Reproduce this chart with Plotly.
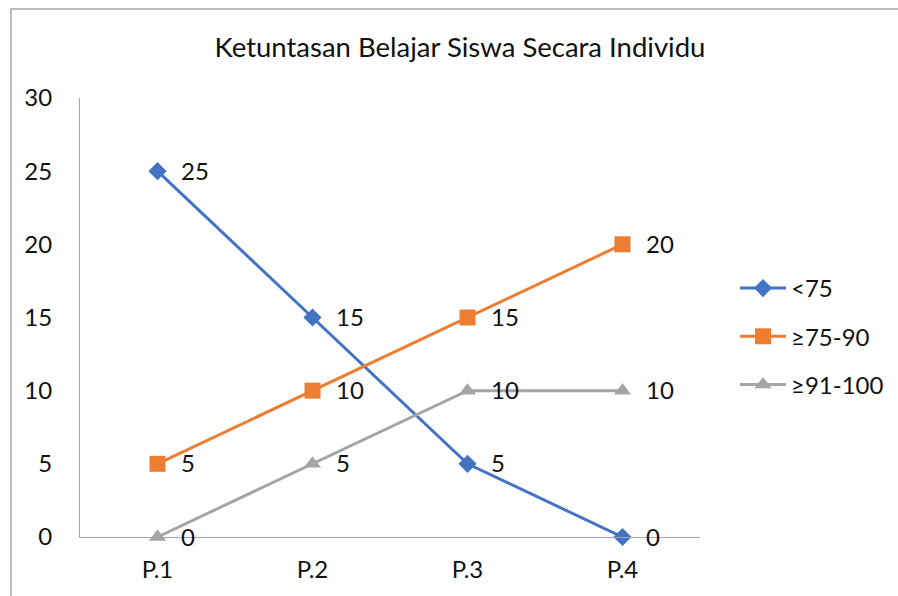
import plotly.graph_objects as go

categories = ["P.1", "P.2", "P.3", "P.4"]
series_names = ["<75", "≥75-90", "≥91-100"]
val_lt75 = [25, 15, 5, 0]
val_75_90 = [5, 10, 15, 20]
val_91_100 = [0, 5, 10, 10]
y_ticks = [0, 5, 10, 15, 20, 25, 30]

colors = ["#4472C4", "#ED7D31", "#A5A5A5"]
symbols = ["diamond", "square", "triangle-up"]
sizes = [14, 16, 15]
FONT = "Lato, 'Open Sans', sans-serif"

fig = go.Figure()
for i, (name, vals) in enumerate(zip(series_names, [val_lt75, val_75_90, val_91_100])):
    fig.add_trace(go.Scatter(
        x=categories, y=vals, name=name, mode="lines+markers",
        line=dict(color=colors[i], width=3),
        marker=dict(symbol=symbols[i], size=sizes[i], color=colors[i]),
        legendgroup=name, cliponaxis=False,
    ))
    for c, v in zip(categories, vals):
        fig.add_annotation(x=c, y=v, text=str(v), showarrow=False, xanchor="left",
                           yanchor="middle", xshift=21, yshift=1,
                           font=dict(size=24, color="#111111", family=FONT))

fig.update_layout(
    width=898, height=596,
    margin=dict(l=80, r=198, t=98, b=59),
    paper_bgcolor="white", plot_bgcolor="white",
    font=dict(family=FONT, size=24, color="#111111"),
    title=dict(text="Ketuntasan Belajar Siswa Secara Individu", x=460/898, xref="container",
               xanchor="center", y=1-47/596, yanchor="middle", yref="container",
               font=dict(size=27.5, family=FONT, color="#111111")),
    showlegend=True,
    legend=dict(x=735/898, xref="container", xanchor="left", y=1-266/596, yref="container",
                yanchor="top", tracegroupgap=14, font=dict(size=24, family=FONT),
                itemwidth=46, bgcolor="rgba(0,0,0,0)"),
    xaxis=dict(type="category", range=[-0.5, 3.5], showgrid=False, showline=True,
               linecolor="#A6A6A6", linewidth=1, ticks="", ticklabelstandoff=11,
               tickfont=dict(size=24, family=FONT), zeroline=False),
    yaxis=dict(range=[0, 30], tickvals=y_ticks, showgrid=False, showline=True,
               linecolor="#A6A6A6", linewidth=1, ticks="", ticklabelstandoff=22,
               tickfont=dict(size=24, family=FONT), zeroline=False),
    shapes=[dict(type="rect", xref="paper", yref="paper", x0=-69/620, x1=(900-80)/620,
                 y0=-70/439, y1=(537-9)/439, line=dict(color="#A6A6A6", width=1.5),
                 fillcolor="rgba(0,0,0,0)", layer="below")],
)

fig.write_html("out.html", config={"displayModeBar": False},
               post_script="document.body.style.margin='0';document.body.style.overflow='hidden';")
